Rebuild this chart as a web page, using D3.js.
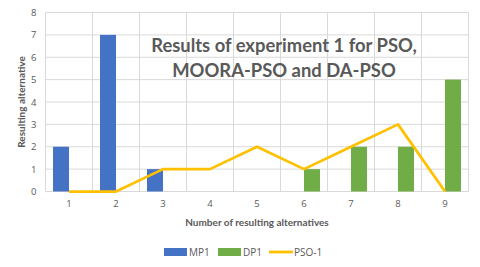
<!DOCTYPE html>
<html><head><meta charset="utf-8">
<script src="https://cdn.jsdelivr.net/npm/d3@7"></script>
<style>body{margin:0;background:#fff}svg{display:block;font-family:Lato,"Open Sans","Liberation Sans",Arial,sans-serif}</style>
</head><body><svg id="c" width="480" height="267"></svg>
<script>
const categories = ["1","2","3","4","5","6","7","8","9"];
const mp1 = [2,7,1,0,0,0,0,0,0];
const dp1 = [0,0,0,0,0,1,2,2,5];
const pso1 = [0,0,1,1,2,1,2,3,0];
const yTicks = [0,1,2,3,4,5,6,7,8];
const seriesNames = ["MP1","DP1","PSO-1"];
const colors = {MP1:"#4472C4", DP1:"#70AD47", "PSO-1":"#FFC000"};

const svg = d3.select("#c");
const L=45.5, R=468.5, T=12.5, B=191.5;
const x = d3.scaleBand().domain(categories).range([L,R]);
const y = d3.scaleLinear().domain([0,8]).range([B,T]);
const sub = d3.scaleBand().domain(["MP1","DP1"]).range([0,x.bandwidth()]).paddingOuter(0.47).paddingInner(0);

const g = svg.append("g");
g.selectAll(".hg").data(yTicks).join("line")
 .attr("x1",L).attr("x2",R).attr("y1",d=>y(d)).attr("y2",d=>y(d))
 .attr("stroke","#d9d9d9").attr("stroke-width",1);
const vlines = categories.map(c=>x(c)).concat([R]);
g.selectAll(".vg").data(vlines).join("line")
 .attr("x1",d=>d).attr("x2",d=>d).attr("y1",T).attr("y2",B)
 .attr("stroke","#d9d9d9").attr("stroke-width",1);

const yAxis = d3.axisLeft(y).tickValues(yTicks).tickSize(0).tickPadding(9);
const ya = svg.append("g").attr("transform",`translate(${L},0)`).call(yAxis);
ya.select(".domain").remove();
ya.selectAll("text").attr("fill","#595959").attr("font-size",9.5).attr("font-family","'Open Sans',sans-serif");
const xAxis = d3.axisBottom(x).tickSize(0).tickPadding(9);
const xa = svg.append("g").attr("transform",`translate(0,${B})`).call(xAxis);
xa.select(".domain").remove();
xa.selectAll("text").attr("fill","#595959").attr("font-size",9.5).attr("font-family","'Open Sans',sans-serif");

const barsData = [];
categories.forEach((c,i)=>{
  barsData.push({c,s:"MP1",v:mp1[i]});
  barsData.push({c,s:"DP1",v:dp1[i]});
});
svg.append("g").selectAll("rect").data(barsData.filter(d=>d.v>0)).join("rect")
 .attr("x",d=>x(d.c)+sub(d.s)).attr("width",sub.bandwidth())
 .attr("y",d=>y(d.v)).attr("height",d=>y(0)-y(d.v))
 .attr("fill",d=>colors[d.s]);

const line = d3.line().x((d,i)=>x(categories[i])+x.bandwidth()/2).y(d=>y(d));
svg.append("path").datum(pso1).attr("d",line).attr("fill","none")
 .attr("stroke",colors["PSO-1"]).attr("stroke-width",2.75).attr("stroke-linejoin","round");

const title = svg.append("text").attr("text-anchor","middle").attr("fill","#595959")
 .attr("font-size",18.4).attr("font-weight","bold");
title.append("tspan").attr("x",284).attr("y",52).text("Results of experiment 1 for PSO,");
title.append("tspan").attr("x",284).attr("y",77).text("MOORA-PSO and DA-PSO");

svg.append("text").attr("transform",`translate(25,${(T+B)/2}) rotate(-90)`)
 .attr("text-anchor","middle").attr("fill","#595959").attr("font-size",10).attr("font-weight","bold")
 .text("Resulting alternative");
svg.append("text").attr("x",257).attr("y",226).attr("text-anchor","middle")
 .attr("fill","#595959").attr("font-size",10).attr("font-weight","bold")
 .text("Number of resulting alternatives");

const leg = svg.append("g");
const legItems = [{n:"MP1",x:164,t:"rect"},{n:"DP1",x:218,t:"rect"},{n:"PSO-1",x:269,t:"line"}];
legItems.forEach(it=>{
  if(it.t==="rect") leg.append("rect").attr("x",it.x).attr("y",248).attr("width",23).attr("height",8).attr("fill",colors[it.n]);
  else leg.append("line").attr("x1",it.x).attr("x2",it.x+24).attr("y1",252).attr("y2",252).attr("stroke",colors[it.n]).attr("stroke-width",2.75);
  leg.append("text").attr("x",it.x+25).attr("y",255.5).attr("fill","#595959").attr("font-size",10).attr("font-family","'Open Sans',sans-serif").text(it.n);
});
</script></body></html>
